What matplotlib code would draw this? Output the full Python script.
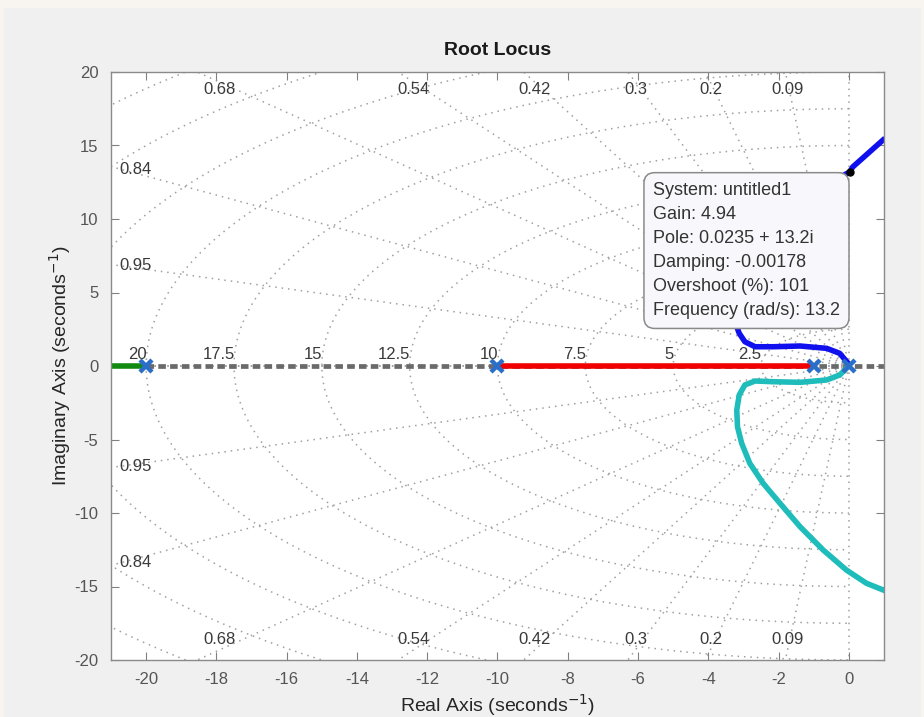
import numpy as np
import matplotlib
matplotlib.use("Agg")
import matplotlib.pyplot as plt
from matplotlib.patches import Rectangle

plt.rcParams['font.family'] = ['Liberation Sans', 'DejaVu Sans']
plt.rcParams['axes.unicode_minus'] = False

# ---- open-loop poles ----
pole_re = [-20, -10, -1, 0]
pole_im = [0, 0, 0, 0]

# ---- locus branches ----
green_re = [-21, -20]
green_im = [0, 0]
red_re = [-10, -1]
red_im = [0, 0]
axis_dash_re = [-20, 1]
axis_dash_im = [0, 0]

cyan_re = [-0.02, -0.26, -0.63, -1.39, -2.15, -2.67, -2.96, -3.12, -3.19, -3.17,
           -3.05, -2.82, -2.44, -1.96, -1.39, -0.73, -0.07, 0.50, 0.98]
cyan_im = [-0.05, -0.61, -0.95, -1.11, -1.07, -1.02, -1.29, -1.97, -2.99, -4.13,
           -5.26, -6.62, -7.98, -9.34, -10.93, -12.52, -13.88, -14.78, -15.24]

blue_re = [-0.02, -0.26, -0.63, -1.39, -2.15, -2.67, -2.96, -3.12, -3.19, -3.17,
           -3.05, -2.82, -2.44, -1.96, -1.39, -0.73, 0.0235, 0.11, 0.97]
blue_im = [0.18, 0.86, 1.20, 1.36, 1.31, 1.31, 1.65, 2.22, 2.67, 4.13,
           5.26, 6.62, 7.98, 9.34, 10.93, 12.2, 13.2, 13.54, 15.37]

# ---- data tip ----
tip_re, tip_im = 0.0235, 13.2
tip_lines = ["System: untitled1", "Gain: 4.94", "Pole: 0.0235 + 13.2i",
             "Damping: -0.00178", "Overshoot (%): 101", "Frequency (rad/s): 13.2"]

# ---- s-plane grid ----
zeta_vals = [0.09, 0.2, 0.3, 0.42, 0.54, 0.68, 0.84, 0.95]
wn_vals = [2.5, 5, 7.5, 10, 12.5, 15, 17.5, 20, 22.5, 25, 27.5]
wn_labels = ["2.5", "5", "7.5", "10", "12.5", "15", "17.5", "20"]

xlim = (-21, 1)
ylim = (-20, 20)

W, H = 924, 717
fig = plt.figure(figsize=(W / 100, H / 100), dpi=100)
fig.patch.set_facecolor('#f8f5f0')
fig.patches.append(Rectangle((4 / W, 0), 917 / W, 709 / H, transform=fig.transFigure,
                             facecolor='#f0f0f0', edgecolor='none', zorder=-10))

ax = fig.add_axes([111 / W, 1 - 660 / H, (884 - 111) / W, (660 - 72) / H])
ax.set_zorder(5)
ax.set_facecolor('white')
ax.set_xlim(*xlim)
ax.set_ylim(*ylim)

grid_kw = dict(color='#a0a0a0', lw=1.1, ls=(0, (1, 3.2)), zorder=1)
label_kw = dict(fontsize=12, color='#3a3a3a', zorder=2)

# damping lines (including zeta = 0 and zeta = 1)
R = 45
for z in [0.0] + zeta_vals + [1.0]:
    s = np.sqrt(1 - z ** 2)
    ax.plot([0, -z * R], [0, s * R], **grid_kw)
    ax.plot([0, -z * R], [0, -s * R], **grid_kw)

# natural-frequency semicircles in the left half plane
th = np.linspace(np.pi / 2, 3 * np.pi / 2, 400)
for wn in wn_vals:
    ax.plot(wn * np.cos(th), wn * np.sin(th), **grid_kw)

# damping labels
for z in zeta_vals:
    slope = np.sqrt(1 - z ** 2) / z
    xt = -19.3 / slope
    if xt > -20.4:
        ax.text(xt, 18.8, f"{z:g}", ha='center', va='center', **label_kw)
        ax.text(xt, -18.6, f"{z:g}", ha='center', va='center', **label_kw)
    else:
        yl = 20.7 * slope
        ax.text(-20.75, yl, f"{z:g}", ha='left', va='center', **label_kw)
        ax.text(-20.75, -yl, f"{z:g}", ha='left', va='center', **label_kw)

# natural-frequency labels on the real axis
for wn, lab in zip(wn_vals, wn_labels):
    ax.text(-wn + 0.02, 0.25, lab, ha='right', va='bottom', **label_kw)

# locus
ax.plot(axis_dash_re, axis_dash_im, color='#6a6a6a', lw=3.4, ls=(0, (1.6, 0.9)),
        solid_capstyle='butt', zorder=3)
ax.plot(green_re, green_im, color='#108a10', lw=4, zorder=4, solid_capstyle='butt')
ax.plot(red_re, red_im, color='#f00000', lw=4, zorder=4, solid_capstyle='butt')
ax.plot(cyan_re, cyan_im, color='#1fbcbc', lw=4, zorder=4, solid_joinstyle='round')
ax.plot(blue_re, blue_im, color='#1010ee', lw=4, zorder=4, solid_joinstyle='round')
ax.plot(pole_re, pole_im, ls='none', marker='x', ms=9, mew=3.2, color='#2a6ec8', zorder=5)

# data tip
ax.annotate("\n".join(tip_lines), xy=(tip_re, tip_im), xytext=(-7, -7),
            textcoords='offset points', ha='right', va='top', multialignment='left',
            fontsize=13, color='#333333', linespacing=1.55, zorder=8,
            bbox=dict(boxstyle='round,pad=0.5,rounding_size=0.6', fc='#f8f8fc',
                      ec='#8a8a8a', lw=1.1))
ax.plot([tip_re], [tip_im], marker='o', ms=5, color='black', zorder=9)

# axes styling
ax.set_xticks(np.arange(-20, 1, 2))
ax.set_yticks(np.arange(-20, 21, 5))
ax.tick_params(direction='in', length=6, width=0.8, top=True, right=True,
               labelsize=12, colors='#808080', labelcolor='#555555', pad=9)
for sp in ax.spines.values():
    sp.set_color('#8a8a8a')
    sp.set_linewidth(1.0)
    sp.set_zorder(10)

ax.set_title("Root Locus", fontsize=14, fontweight='bold', color='#1a1a1a', pad=12)
ax.set_xlabel("Real Axis (seconds$^{-1}$)", fontsize=14, color='#262626', labelpad=3)
ax.set_ylabel("Imaginary Axis (seconds$^{-1}$)", fontsize=14, color='#262626', labelpad=1)

fig.savefig("out.png", dpi=100, facecolor=fig.get_facecolor())
